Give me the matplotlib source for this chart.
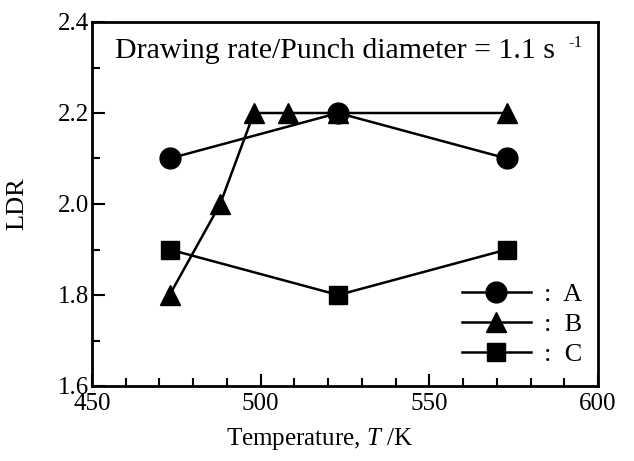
import numpy as np
import matplotlib
matplotlib.use('Agg')
import matplotlib.pyplot as plt
from matplotlib.ticker import MultipleLocator

plt.rcParams['font.family'] = ['Liberation Serif', 'DejaVu Serif']
plt.rcParams['mathtext.fontset'] = 'custom'
plt.rcParams['mathtext.rm'] = 'Liberation Serif'
plt.rcParams['mathtext.it'] = 'Liberation Serif:italic'

# data
temp_a = [473, 523, 573]
ldr_a = [2.1, 2.2, 2.1]
temp_b = [473, 488, 498, 508, 523, 573]
ldr_b = [1.8, 2.0, 2.2, 2.2, 2.2, 2.2]
temp_c = [473, 523, 573]
ldr_c = [1.9, 1.8, 1.9]

fig = plt.figure(figsize=(6.34, 4.61), dpi=100)
ax = fig.add_axes([92 / 634, 75 / 461, 506 / 634, 364 / 461])

ax.plot(temp_a, ldr_a, color='black', lw=1.8, marker='o', ms=15, label=':  A')
ax.plot(temp_b, ldr_b, color='black', lw=1.8, marker='^', ms=15, label=':  B')
ax.plot(temp_c, ldr_c, color='black', lw=1.8, marker='s', ms=12.5, label=':  C')

ax.set_xlim(450, 600)
ax.set_ylim(1.6, 2.4)
ax.xaxis.set_major_locator(MultipleLocator(50))
ax.xaxis.set_minor_locator(MultipleLocator(10))
ax.yaxis.set_major_locator(MultipleLocator(0.2))
ax.yaxis.set_minor_locator(MultipleLocator(0.1))
ax.yaxis.set_major_formatter(plt.FormatStrFormatter('%.1f'))
ax.tick_params(which='both', direction='in', top=False, right=False,
               labelsize=18, width=1.5, pad=2)
ax.tick_params(axis='x', which='major', pad=5)
ax.tick_params(which='major', length=9)
ax.tick_params(which='minor', length=6)
for s in ax.spines.values():
    s.set_linewidth(2)

ax.set_xlabel('Temperature, $\\mathit{T}$ /K', fontsize=18)
ax.xaxis.set_label_coords(0.45, -0.11)
ax.set_ylabel('LDR', fontsize=19)
ax.yaxis.set_label_coords(-0.127, 0.5)
ax.text(0.045, 0.955, 'Drawing rate/Punch diameter = 1.1 s',
        transform=ax.transAxes, fontsize=21.5, va='top', ha='left')
ax.text(0.97, 0.965, '-1', transform=ax.transAxes, fontsize=12,
        va='top', ha='right')

ax.legend(loc='lower right', bbox_to_anchor=(1.0, 0.011), frameon=False,
          fontsize=19, handlelength=2.6, handletextpad=0.5,
          labelspacing=0.25, borderaxespad=0.2)

plt.savefig('out.png', dpi=100)
